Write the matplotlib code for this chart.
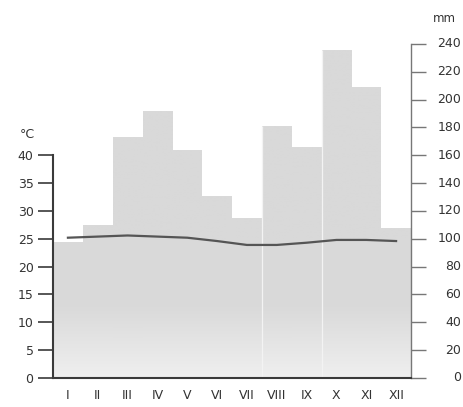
import matplotlib
matplotlib.use("Agg")
import matplotlib.pyplot as plt
import numpy as np
from matplotlib.colors import LinearSegmentedColormap
from matplotlib import transforms

months = ["I", "II", "III", "IV", "V", "VI", "VII", "VIII", "IX", "X", "XI", "XII"]
precip_mm = [98, 110, 173, 192, 164, 131, 115, 181, 166, 236, 209, 108]
temp_c = [25.2, 25.4, 25.6, 25.4, 25.2, 24.6, 23.9, 23.9, 24.3, 24.8, 24.8, 24.6]
mm_ticks = [0, 20, 40, 60, 80, 100, 120, 140, 160, 180, 200, 220, 240]
c_ticks = [0, 5, 10, 15, 20, 25, 30, 35, 40]

plt.rcParams['font.family'] = ['Liberation Sans Narrow', 'DejaVu Sans']

fig = plt.figure(figsize=(4.63, 4.07), dpi=100)
ax = fig.add_axes([0.1145, 0.0713, 0.7732, 0.8206])
x = np.arange(len(months))

bars = ax.bar(x, precip_mm, width=1.0, color='none', edgecolor='none', zorder=1)
cmap = LinearSegmentedColormap.from_list('g', ['#efefef', '#dadada', '#d9d9d9'])
grad = np.linspace(0, 1, 256).reshape(-1, 1)
grad = np.clip(grad * 2.4, 0, 1)
for b in bars:
    im = ax.imshow(grad, cmap=cmap, aspect='auto', origin='lower',
                   extent=[-0.5, 11.5, 0, 240], zorder=1, vmin=0, vmax=1)
    im.set_clip_path(b)
# faint boundaries
ax.vlines([6.5, 8.5], 0, [precip_mm[7], precip_mm[9]], color='#f3f3f3', lw=0.9, zorder=2)

ax.set_xlim(-0.5, 11.5)
ax.set_ylim(0, 240)

ax2 = ax.twinx()
ax2.set_ylim(0, 60)
ax2.plot(x, temp_c, color='#555555', lw=1.6, zorder=3)

for a in (ax, ax2):
    a.set_facecolor('none')
    for s in a.spines.values():
        s.set_visible(False)

# bottom spine
ax.spines['bottom'].set_visible(True)
ax.spines['bottom'].set_color('#3a3a3a')
ax.spines['bottom'].set_linewidth(1.5)
ax.set_xticks(x)
ax.set_xticklabels(months, fontsize=9, color='#333333')
ax.tick_params(axis='x', length=0, pad=8)

# right precipitation axis
ax.yaxis.tick_right()
ax.spines['right'].set_visible(True)
ax.spines['right'].set_color('#777777')
ax.spines['right'].set_linewidth(1.0)
ax.set_yticks(mm_ticks)
ax.set_yticklabels([])
ax.tick_params(axis='y', length=11, width=1.0, color='#777777')
tr = transforms.blended_transform_factory(fig.transFigure, ax.transData)
for v in mm_ticks:
    ax.text(0.996, v, str(v), transform=tr, ha='right', va='center', fontsize=9,
            color='#333333', clip_on=False)
fig.text(0.985, 0.955, 'mm', ha='right', va='center', fontsize=8.5, color='#333333')

# left temperature axis
ax2.yaxis.tick_left()
ax2.spines['left'].set_visible(True)
ax2.spines['left'].set_color('#3a3a3a')
ax2.spines['left'].set_linewidth(1.5)
ax2.spines['left'].set_bounds(0, 40)
ax2.set_yticks(c_ticks)
ax2.set_yticklabels([str(v) for v in c_ticks], fontsize=9, color='#333333')
ax2.tick_params(axis='y', length=11, width=1.2, color='#3a3a3a', pad=3)
trl = transforms.blended_transform_factory(ax2.transAxes, ax2.transData)
ax2.text(-0.05, 43.8, '°C', transform=trl, ha='right', va='center', fontsize=9,
         color='#333333')
ax2.set_xlim(-0.5, 11.5)

fig.savefig('out.png', dpi=100)
